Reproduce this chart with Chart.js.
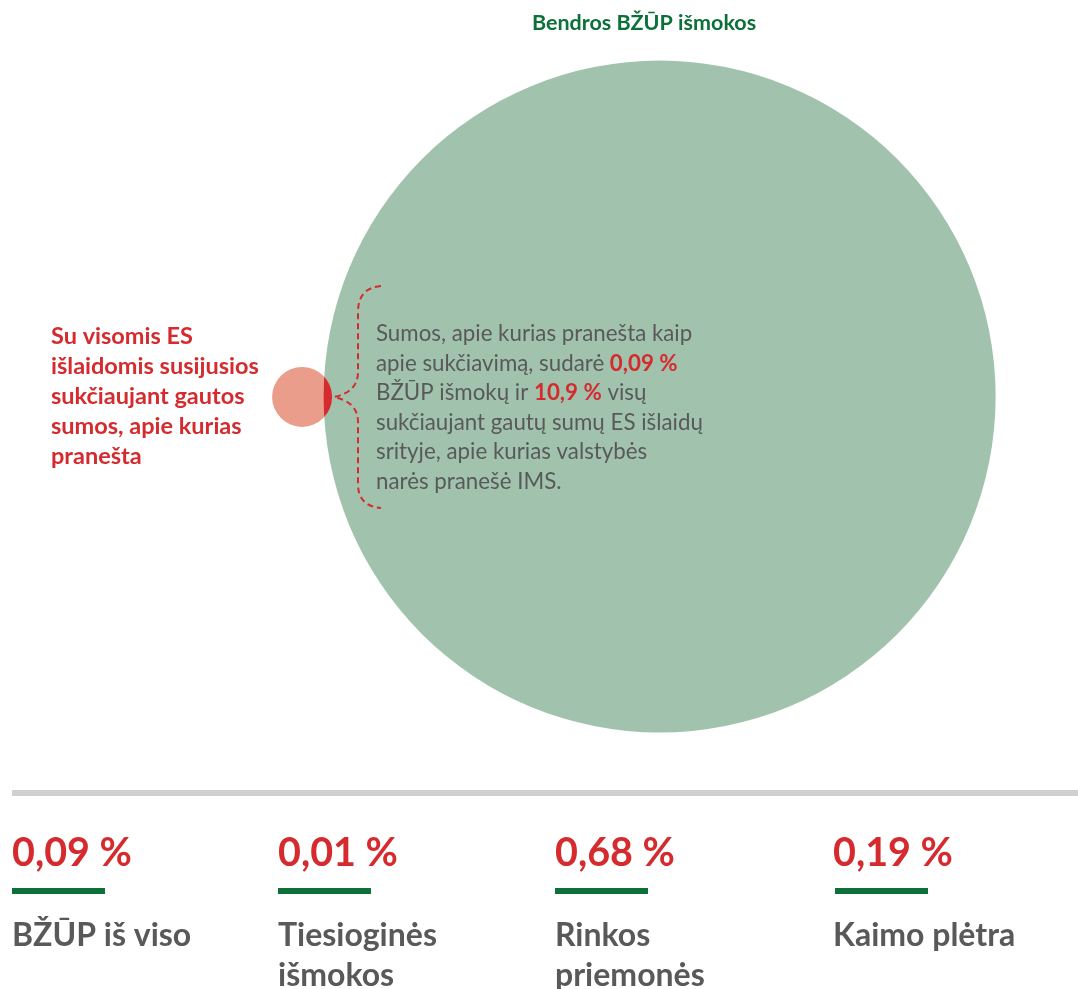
<!DOCTYPE html>
<html>
<head>
<meta charset="utf-8">
<script src="https://cdn.jsdelivr.net/npm/chart.js@4/dist/chart.umd.min.js"></script>
<style>
  html, body { margin: 0; padding: 0; background: #fff; overflow: hidden; }
  #wrap { width: 1078px; height: 989px; }
</style>
</head>
<body>
<div id="wrap"><canvas id="myChart" width="1078" height="989"></canvas></div>
<script>
// circles: big = all CAP payments, small = reported fraud
const circleLabels = ['Bendros BŽŪP išmokos', 'Sukčiaujant gautos sumos'];
const circleX = [0, -106.4];
const circleY = [0, -0.1];
const circleR = [336, 30]; // bubble radius (px, as Chart.js bubbles use)

const shareOfCap = 0.09;    // % of CAP payments
const shareOfFraud = 10.9;  // % of all fraud reported in EU spending

const statValues = [0.09, 0.01, 0.68, 0.19];
const statLabels = [['BŽŪP iš viso'], ['Tiesioginės', 'išmokos'], ['Rinkos', 'priemonės'], ['Kaimo plėtra']];

const sideLabel = ['Su visomis ES', 'išlaidomis susijusios', 'sukčiaujant gautos', 'sumos, apie kurias', 'pranešta'];

const GREEN_FILL = '#a1c3ae';
const SALMON = '#e99d8a';
const RED = '#d52b2e';
const DARK_GREEN = '#0b7138';
const GREY_TEXT = '#595959';
const FONT = 'Lato, "Open Sans", sans-serif';

const fmt = (v, d) => v.toFixed(d).replace('.', ',') + ' %';

const notes = [
  [['Sumos, apie kurias pranešta kaip']],
  [['apie sukčiavimą, sudarė '], [fmt(shareOfCap, 2), true]],
  [['BŽŪP išmokų ir '], [fmt(shareOfFraud, 1), true], [' visų']],
  [['sukčiaujant gautų sumų ES išlaidų']],
  [['srityje, apie kurias valstybės']],
  [['narės pranešė IMS.']]
];

// red lens where the small circle sits inside the big one
const overlapPlugin = {
  id: 'overlap',
  afterDatasetsDraw(chart) {
    const pts = chart.getDatasetMeta(0).data;
    const big = pts[0], small = pts[1];
    const c = chart.ctx;
    c.save();
    c.beginPath();
    c.arc(big.x, big.y, big.options.radius, 0, Math.PI * 2);
    c.clip();
    c.beginPath();
    c.arc(small.x, small.y, small.options.radius, 0, Math.PI * 2);
    c.fillStyle = RED;
    c.fill();
    c.restore();
  }
};

const textPlugin = {
  id: 'texts',
  afterDraw(chart) {
    const c = chart.ctx;
    c.save();
    c.textBaseline = 'alphabetic';

    // title
    c.fillStyle = DARK_GREEN;
    c.font = 'bold 21.5px ' + FONT;
    c.textAlign = 'center';
    c.fillText(circleLabels[0], 644, 30);
    c.textAlign = 'left';

    // red label on the left
    c.fillStyle = RED;
    c.font = 'bold 23.5px ' + FONT;
    sideLabel.forEach((l, i) => c.fillText(l, 51, 344 + i * 30));

    // brace
    c.strokeStyle = RED;
    c.lineWidth = 2;
    c.setLineDash([6, 4]);
    c.beginPath();
    c.moveTo(381, 286);
    c.quadraticCurveTo(358, 288, 358, 312);
    c.lineTo(358, 372);
    c.quadraticCurveTo(358, 392, 334, 397);
    c.quadraticCurveTo(358, 402, 358, 422);
    c.lineTo(358, 484);
    c.quadraticCurveTo(358, 506, 381, 508);
    c.stroke();
    c.setLineDash([]);

    // note inside the big circle
    notes.forEach((line, i) => {
      let x = 376;
      const y = 341 + i * 29.5;
      line.forEach(([t, hi]) => {
        c.font = (hi ? 'bold ' : '') + '22.3px ' + FONT;
        c.fillStyle = hi ? RED : GREY_TEXT;
        c.fillText(t, x, y);
        x += c.measureText(t).width;
      });
    });

    // separator
    c.fillStyle = '#d0d0d0';
    c.fillRect(12, 790, 1066, 6);

    // stats
    const colX = [12, 278, 555, 833];
    statValues.forEach((v, i) => {
      c.fillStyle = RED;
      c.font = 'bold 39.5px ' + FONT;
      c.fillText(fmt(v, 2), colX[i], 866);
      c.fillStyle = DARK_GREEN;
      c.fillRect(colX[i] + (i === 3 ? 2 : 0), 888, 93, 6);
      c.fillStyle = GREY_TEXT;
      c.font = 'bold 32px ' + FONT;
      statLabels[i].forEach((l, j) => c.fillText(l, colX[i], 946 + j * 40));
    });
    c.restore();
  }
};

const data = {
  datasets: [{
    label: 'Sumos',
    data: circleX.map((x, i) => ({ x: x, y: circleY[i], r: circleR[i] })),
    backgroundColor: [GREEN_FILL, SALMON],
    borderWidth: 0,
    hoverRadius: 0,
    clip: false
  }]
};

const config = {
  type: 'bubble',
  data: data,
  options: {
    responsive: false,
    animation: false,
    events: [],
    layout: { autoPadding: false, padding: { left: 0, right: 0, top: 0, bottom: 209 } },
    plugins: { legend: { display: false }, tooltip: { enabled: false } },
    scales: {
      x: { type: 'linear', display: false, min: -196.3, max: 124.5 },
      y: { type: 'linear', display: false, min: -114.1, max: 118.0 }
    }
  },
  plugins: [overlapPlugin, textPlugin]
};

const myChart = new Chart(document.getElementById('myChart'), config);
</script>
</body>
</html>
